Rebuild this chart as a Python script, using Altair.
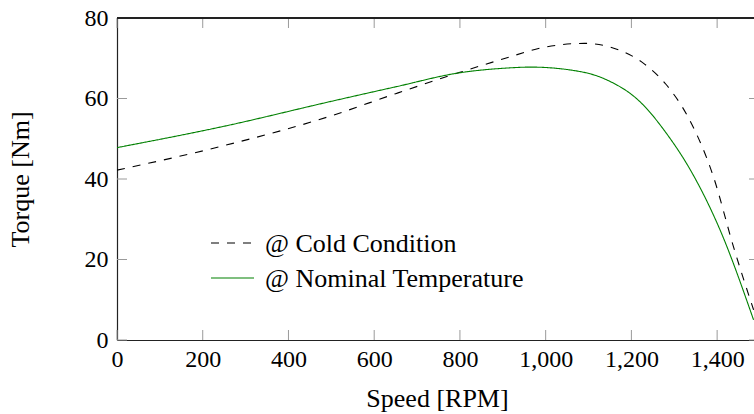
import altair as alt
import pandas as pd

# ---- data ----
cold_speed = [0, 250, 500, 650, 800, 900, 1000, 1090, 1170, 1230, 1280, 1330, 1390, 1440, 1485]
cold_torque = [42.2, 48.3, 55.7, 61.2, 66.5, 69.8, 72.8, 73.7, 72.1, 68.6, 63.6, 55.8, 41.0, 22.5, 7.5]

nom_speed = [0, 254, 500, 650, 800, 900, 965, 1080, 1143, 1220, 1282, 1340, 1407, 1485]
nom_torque = [47.8, 53.2, 59.3, 62.9, 66.4, 67.5, 67.8, 66.7, 64.6, 59.2, 51.3, 41.8, 27.3, 5.0]

series_names = ["@ Cold Condition", "@ Nominal Temperature"]
series_colors = ["black", "#008000"]
series_dash = [[8, 8], [1, 0]]
x_ticks = [0, 200, 400, 600, 800, 1000, 1200, 1400]
y_ticks = [0, 20, 40, 60, 80]

# ---- layout ----
W, H = 637, 322
X_MAX = 1486
SERIF = "Liberation Serif"

df = pd.concat([
    pd.DataFrame({"speed": cold_speed, "torque": cold_torque, "series": series_names[0]}),
    pd.DataFrame({"speed": nom_speed, "torque": nom_torque, "series": series_names[1]}),
])

xscale = alt.Scale(domain=[0, X_MAX], nice=False, zero=False)
yscale = alt.Scale(domain=[0, 80], nice=False)

lines = alt.Chart(df).mark_line(strokeWidth=1.1, clip=True, interpolate="monotone").encode(
    x=alt.X("speed:Q", scale=xscale,
            axis=alt.Axis(values=x_ticks, format=",d", grid=False, ticks=False,
                          domainColor="#222", domainWidth=1.2,
                          labelFont=SERIF, labelFontSize=24, labelColor="black",
                          labelPadding=7, labelFlush=False, labelOverlap=False,
                          title="Speed [RPM]", titleFont=SERIF, titleFontSize=26,
                          titleFontWeight="normal", titleColor="black",
                          titleX=320, titleY=66, titleBaseline="alphabetic",
                          titleAlign="center")),
    y=alt.Y("torque:Q", scale=yscale,
            axis=alt.Axis(values=y_ticks, grid=False, ticks=False,
                          domainColor="#222", domainWidth=1.2,
                          labelFont=SERIF, labelFontSize=24, labelColor="black",
                          labelPadding=9, labelFlush=False, labelOverlap=False,
                          title="Torque [Nm]", titleFont=SERIF, titleFontSize=26,
                          titleFontWeight="normal", titleColor="black",
                          titleX=-89, titleY=161, titleAngle=270,
                          titleBaseline="alphabetic", titleAlign="center")),
    color=alt.Color("series:N", scale=alt.Scale(domain=series_names, range=series_colors),
                    legend=None),
    strokeDash=alt.StrokeDash("series:N", scale=alt.Scale(domain=series_names, range=series_dash),
                              legend=None),
)

# ---- manual legend ----
legend_layers = []
for i, name in enumerate(series_names):
    ldf = pd.DataFrame({"label": [name]})
    ypix = 225 + 35 * i
    legend_layers.append(
        alt.Chart(ldf).mark_rule(color=series_colors[i], strokeDash=series_dash[i], strokeWidth=1.1).encode(
            x=alt.value(94), x2=alt.value(137), y=alt.value(ypix)))
    legend_layers.append(
        alt.Chart(ldf).mark_text(align="left", baseline="middle", font=SERIF, fontSize=26,
                                 color="black", dy=1).encode(
            x=alt.value(148), y=alt.value(ypix), text="label:N"))

xt = pd.DataFrame({"v": x_ticks})
yt = pd.DataFrame({"v": y_ticks})
TICK = "#9a9a9a"

bottom_ticks = alt.Chart(xt).mark_rule(color=TICK, strokeWidth=1).encode(
    x=alt.X("v:Q", scale=xscale), y=alt.value(H), y2=alt.value(H - 10))
top_ticks = alt.Chart(xt).mark_rule(color=TICK, strokeWidth=1).encode(
    x=alt.X("v:Q", scale=xscale), y=alt.value(0), y2=alt.value(10))
left_ticks = alt.Chart(yt).mark_rule(color=TICK, strokeWidth=1).encode(
    y=alt.Y("v:Q", scale=yscale), x=alt.value(0), x2=alt.value(10))
right_ticks = alt.Chart(yt).mark_rule(color=TICK, strokeWidth=1).encode(
    y=alt.Y("v:Q", scale=yscale), x=alt.value(W - 5), x2=alt.value(W))
top_frame = alt.Chart(xt).mark_rule(color="#222", strokeWidth=1.2).encode(
    x=alt.value(0), x2=alt.value(W), y=alt.value(0))

chart = alt.layer(
    bottom_ticks, top_ticks, left_ticks, right_ticks, top_frame, lines, *legend_layers
).properties(
    width=W, height=H,
    padding={"left": 117, "top": 18, "right": 0, "bottom": 74},
    autosize="none",
).configure_view(stroke=None).configure(background="white")

chart.save("out.html", embed_options={"renderer": "svg", "actions": False})
